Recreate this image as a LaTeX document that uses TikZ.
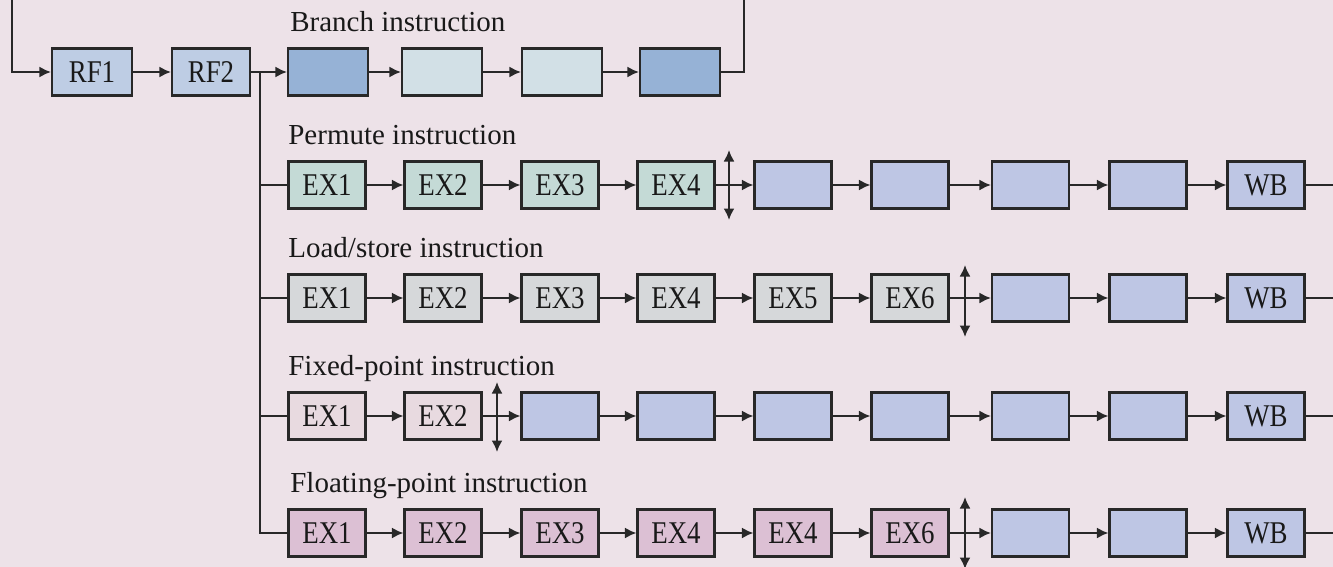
\documentclass[tikz,border=0pt]{standalone}
\usepackage{fontspec}
\setmainfont{LiberationSerif}[Extension=.ttf, UprightFont=*-Regular,
  BoldFont=*-Bold, ItalicFont=*-Italic]
\newfontfamily\stagefont{LiberationSerif}[Extension=.ttf,
  UprightFont=*-Regular, FakeStretch=0.85]
\usetikzlibrary{arrows.meta, positioning}

\definecolor{bgpink}{RGB}{237,226,232}
\definecolor{linegray}{RGB}{40,40,40}
\definecolor{rffill}{RGB}{190,205,228}
\definecolor{brdark}{RGB}{150,178,214}
\definecolor{brlight}{RGB}{210,224,230}
\definecolor{permfill}{RGB}{196,218,214}
\definecolor{lsfill}{RGB}{214,216,218}
\definecolor{fixfill}{RGB}{232,218,224}
\definecolor{fpfill}{RGB}{220,192,212}
\definecolor{pipefill}{RGB}{190,198,228}

\begin{document}
\begin{tikzpicture}[
  stage/.style={draw=linegray, line width=1.2pt, minimum width=1.54cm,
    minimum height=0.94cm, inner sep=0pt, text=black!90,
    font=\stagefont\fontsize{18}{20}\selectfont},
  arr/.style={-{Latex[length=2.3mm, width=2.2mm]}, line width=1.1pt, draw=linegray},
  wire/.style={line width=1.1pt, draw=linegray},
  stall/.style={{Latex[length=2.3mm, width=2.2mm]}-{Latex[length=2.3mm, width=2.2mm]},
    line width=1.1pt, draw=linegray},
  title/.style={anchor=base west, inner sep=0pt, text=black!90,
    font=\fontsize{16.5}{18}\selectfont},
]
  \fill[bgpink] (0, 0) rectangle (26.66, -11.34);
  \useasboundingbox (0, 0) rectangle (26.66, -11.34);

  % stage columns and pipe rows
  \foreach \i/\x in {1/6.54, 2/8.86, 3/11.20, 4/13.52, 5/15.86,
                     6/18.20, 7/20.61, 8/22.96, 9/25.32}
    \coordinate (c\i) at (\x, 0);
  \coordinate (r0) at (0, -1.44);
  \coordinate (r1) at (0, -3.70);
  \coordinate (r2) at (0, -5.96);
  \coordinate (r3) at (0, -8.32);
  \coordinate (r4) at (0, -10.66);

  % register fetch and branch pipe
  \node[stage, fill=rffill, minimum width=1.6cm] (rf1) at (1.84, -1.44) {RF1};
  \node[stage, fill=rffill, minimum width=1.56cm] (rf2) at (4.22, -1.44) {RF2};
  \node[stage, fill=brdark, minimum width=1.6cm] (b1) at (6.56, -1.44) {};
  \node[stage, fill=brlight, minimum width=1.6cm] (b2) at (8.84, -1.44) {};
  \node[stage, fill=brlight, minimum width=1.6cm] (b3) at (11.24, -1.44) {};
  \node[stage, fill=brdark, minimum width=1.6cm] (b4) at (13.60, -1.44) {};
  \node[title] (tb) at (5.80, -0.63) {Branch instruction};

  \draw[arr] (rf1) -- (rf2);
  \draw[arr] (rf2) -- (b1);
  \draw[arr] (b1) -- (b2);
  \draw[arr] (b2) -- (b3);
  \draw[arr] (b3) -- (b4);

  % branch result loops back to RF1
  \coordinate (looptop) at (14.88, 0);
  \coordinate (loopin) at (0.24, 0);
  \draw[wire] (b4.east) -| (looptop);
  \draw[arr] (loopin) |- (rf1.west);

  % permute pipe
  \node[title] (tp) at (5.76, -2.89) {Permute instruction};
  \foreach \i/\t in {1/EX1, 2/EX2, 3/EX3, 4/EX4}
    \node[stage, fill=permfill] (p\i) at (c\i |- r1) {\t};
  \foreach \i/\t in {5/{}, 6/{}, 7/{}, 8/{}, 9/WB}
    \node[stage, fill=pipefill] (p\i) at (c\i |- r1) {\t};
  \foreach \i [count=\j from 2] in {1,...,8}
    \draw[arr] (p\i) -- (p\j);

  % load/store pipe
  \node[title] (tl) at (5.76, -5.15) {Load/store instruction};
  \foreach \i/\t in {1/EX1, 2/EX2, 3/EX3, 4/EX4, 5/EX5, 6/EX6}
    \node[stage, fill=lsfill] (l\i) at (c\i |- r2) {\t};
  \foreach \i/\t in {7/{}, 8/{}, 9/WB}
    \node[stage, fill=pipefill] (l\i) at (c\i |- r2) {\t};
  \foreach \i [count=\j from 2] in {1,...,8}
    \draw[arr] (l\i) -- (l\j);

  % fixed-point pipe
  \node[title] (tx) at (5.76, -7.51) {Fixed-point instruction};
  \foreach \i/\t in {1/EX1, 2/EX2}
    \node[stage, fill=fixfill] (x\i) at (c\i |- r3) {\t};
  \foreach \i/\t in {3/{}, 4/{}, 5/{}, 6/{}, 7/{}, 8/{}, 9/WB}
    \node[stage, fill=pipefill] (x\i) at (c\i |- r3) {\t};
  \foreach \i [count=\j from 2] in {1,...,8}
    \draw[arr] (x\i) -- (x\j);

  % floating-point pipe
  \node[title] (tf) at (5.80, -9.85) {Floating-point instruction};
  \foreach \i/\t in {1/EX1, 2/EX2, 3/EX3, 4/EX4, 5/EX4, 6/EX6}
    \node[stage, fill=fpfill] (f\i) at (c\i |- r4) {\t};
  \foreach \i/\t in {7/{}, 8/{}, 9/WB}
    \node[stage, fill=pipefill] (f\i) at (c\i |- r4) {\t};
  \foreach \i [count=\j from 2] in {1,...,8}
    \draw[arr] (f\i) -- (f\j);

  % issue bus from RF2
  \coordinate (bus) at (5.2, -1.44);
  \draw[wire] (bus) |- (f1.west);
  \foreach \r in {p, l, x}
    \draw[wire] (bus |- \r1.west) -- (\r1.west);

  % write-back outputs
  \coordinate (rim) at (26.66, 0);
  \foreach \r in {p, l, x, f}
    \draw[wire] (\r9.east) -- (\r9.east -| rim);

  % stall points
  \coordinate (s1t) at (14.58, -3.00);
  \coordinate (s1b) at (14.58, -4.40);
  \coordinate (s2t) at (19.30, -5.30);
  \coordinate (s2b) at (19.30, -6.74);
  \coordinate (s3t) at (9.94, -7.64);
  \coordinate (s3b) at (9.94, -9.04);
  \coordinate (s4t) at (19.30, -9.94);
  \coordinate (s4b) at (19.30, -11.38);
  \foreach \s in {1,...,4}
    \draw[stall] (s\s t) -- (s\s b);
\end{tikzpicture}
\end{document}
